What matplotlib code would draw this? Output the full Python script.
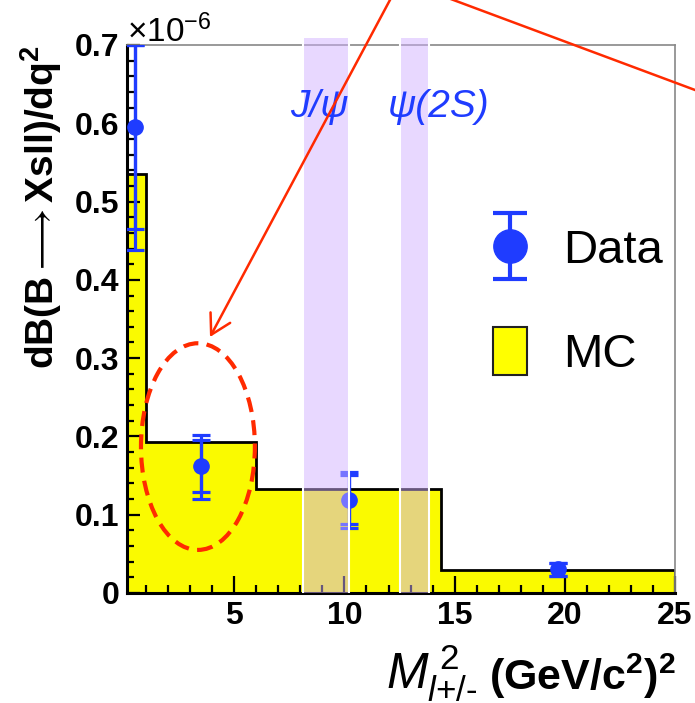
import numpy as np
import matplotlib
matplotlib.use('Agg')
import matplotlib.pyplot as plt
from matplotlib.patches import Rectangle, Ellipse, FancyArrowPatch
from matplotlib.lines import Line2D
from matplotlib.collections import LineCollection
from matplotlib.container import ErrorbarContainer
from matplotlib.legend_handler import HandlerErrorbar, HandlerPatch
from matplotlib.ticker import MultipleLocator, FuncFormatter

plt.rcParams['font.family'] = ['Liberation Sans', 'DejaVu Sans']
plt.rcParams['mathtext.fontset'] = 'custom'
plt.rcParams['mathtext.rm'] = 'Liberation Sans'
plt.rcParams['mathtext.it'] = 'Liberation Sans:italic'
plt.rcParams['mathtext.bf'] = 'Liberation Sans:bold'

# MC histogram, dB/dq^2 in units of 1e-6
mc_edges = [0, 1, 6, 14.4, 25]
mc_vals = [0.535, 0.1925, 0.1324, 0.0294]

# data points with stat and total errors
data_q2 = [0.5, 3.5, 10.2, 19.7]
data_val = [0.5955, 0.162, 0.119, 0.030]
stat_lo = [0.130, 0.033, 0.031, 0.008]
stat_hi = [0.130, 0.033, 0.032, 0.008]
tot_lo = [0.158, 0.042, 0.036, 0.008]
tot_hi = [0.158, 0.040, 0.035, 0.008]

# charmonium veto windows
veto_lo = [8.1, 12.5]
veto_hi = [10.2, 13.85]
veto_names = ['J/ψ', 'ψ(2S)']

XMIN, XMAX = 0.13, 25
YMAX = 0.7

BLUE = '#1f3cff'
YELLOW = '#fafa00'
BAND = (0.82, 0.69, 1.0, 0.49)
RED = '#ff2a00'

fig = plt.figure(figsize=(6.95, 7.03), dpi=100)
ax = fig.add_axes([0.1827, 0.1565, 0.7885, 0.7795])

# MC histogram
ax.stairs(mc_vals, mc_edges, fill=True, color=YELLOW, zorder=1)
ax.stairs(mc_vals, mc_edges, color='black', lw=2, zorder=1.5)

# data
x = np.array(data_q2)
y = np.array(data_val)


def clip_err(lo, hi):
    hi = np.minimum(y + np.array(hi), YMAX) - y
    return [np.array(lo), hi]


ax.errorbar(x, y, yerr=clip_err(tot_lo, tot_hi), fmt='none', ecolor=BLUE,
            elinewidth=2.3, capsize=6.8, capthick=2.3, zorder=3)
ax.errorbar(x, y, yerr=clip_err(stat_lo, stat_hi), fmt='o', color=BLUE,
            ms=11, elinewidth=2.3, capsize=6.8, capthick=2.3, zorder=3)

# veto bands drawn on top
for lo, hi, name in zip(veto_lo, veto_hi, veto_names):
    ax.add_patch(Rectangle((lo, 0), hi - lo, YMAX * 1.013, facecolor=BAND,
                           edgecolor='none', clip_on=False, zorder=4))
    ax.text(lo - 0.55, 0.608, name, color=BLUE, fontsize=28, style='italic',
            ha='left', va='baseline', zorder=6)
ax.vlines(veto_lo + veto_hi, 0, YMAX * 1.013, colors='white', lw=1.5,
          zorder=4.1, clip_on=False)

# dashed ellipse highlight
ax.add_patch(Ellipse((3.35, 0.187), 5.17, 0.264, fill=False, edgecolor=RED,
                     lw=3, ls=(0, (3.6, 2.0)), zorder=5))

# axes style
ax.set_xlim(XMIN, XMAX)
ax.set_ylim(0, YMAX)
ax.xaxis.set_major_locator(MultipleLocator(5))
ax.xaxis.set_minor_locator(MultipleLocator(1))
ax.yaxis.set_major_locator(MultipleLocator(0.1))
ax.yaxis.set_minor_locator(MultipleLocator(0.02))
ax.yaxis.set_major_formatter(FuncFormatter(lambda v, p: '0' if abs(v) < 1e-9 else f'{v:.1f}'))
ax.xaxis.set_major_formatter(FuncFormatter(lambda v, p: f'{v:g}'))
ax.tick_params(which='both', direction='in', top=False, right=False, width=1.6)
ax.tick_params(axis='x', which='major', length=12, pad=6, labelsize=23)
ax.tick_params(axis='x', which='minor', length=6)
ax.tick_params(axis='y', which='major', length=9.5, pad=5.5, labelsize=23)
ax.tick_params(axis='y', which='minor', length=5)
plt.setp(ax.get_xticklabels() + ax.get_yticklabels(), fontweight='bold')
for s in ['left', 'bottom']:
    ax.spines[s].set_linewidth(2.2)
for s in ['top', 'right']:
    ax.spines[s].set_color('#888888')
    ax.spines[s].set_linewidth(1.2)

# legend
leg_marker = Line2D([], [], color=BLUE, marker='o', ms=24, ls='none')
leg_cap = Line2D([], [], color=BLUE, marker='_', ms=24, mew=3, ls='none')
leg_bar = LineCollection([], colors=BLUE, linewidths=3)
data_handle = ErrorbarContainer((leg_marker, (leg_cap,), (leg_bar,)),
                                has_xerr=False, has_yerr=True)
mc_handle = Rectangle((0, 0), 1, 1, facecolor='#ffff00', edgecolor='#222222', lw=1.5)


def make_box(legend, orig_handle, xdescent, ydescent, width, height, fontsize):
    w, h = 0.72 * fontsize, 1.01 * fontsize
    cx, cy = -xdescent + width / 2, -ydescent + height / 2
    return Rectangle((cx - w / 2, cy - h / 2), w, h)


ax.legend([data_handle, mc_handle], ['Data', 'MC'],
          handler_map={ErrorbarContainer: HandlerErrorbar(yerr_size=0.69),
                       Rectangle: HandlerPatch(patch_func=make_box)},
          loc='upper left', bbox_to_anchor=(0.668, 0.665), frameon=False,
          fontsize=34, handlelength=0.72, handletextpad=0.76,
          labelspacing=1.29, borderpad=0, borderaxespad=0)

# labels
fig.text(127 / 695, 1 - 42 / 703, '×10$^{-6}$', fontsize=24, ha='left', va='baseline')
fig.text(41.5 / 695, 1 - 45 / 703, r'dB(B$\longrightarrow$Xsll)/dq$^{\mathbf{2}}$', rotation=90,
         ha='center', va='top', fontsize=28, fontweight='bold')
fig.text(676 / 695, 1 - 690 / 703, r'(GeV/c$^{\mathbf{2}}$)$^{\mathbf{2}}$',
         ha='right', va='baseline', fontsize=31, fontweight='bold')
fig.text(478 / 695, 1 - 688 / 703, r'$M_{l\text{+/-}}^{\;2}$',
         ha='right', va='baseline', fontsize=36)

# red annotation lines
fig.add_artist(FancyArrowPatch((395.3 / 695, 1 + 10 / 703), (210 / 695, 1 - 337 / 703),
                               transform=fig.transFigure, color=RED, lw=1.8,
                               arrowstyle='->,head_length=0.7,head_width=0.4',
                               mutation_scale=20, shrinkA=0, shrinkB=0, zorder=10))
fig.add_artist(Line2D([440 / 695, 720 / 695], [1 + 5 / 703, 1 - 99.3 / 703],
                      transform=fig.transFigure, color=RED, lw=1.8, zorder=10))

fig.savefig('out.png', dpi=100)
